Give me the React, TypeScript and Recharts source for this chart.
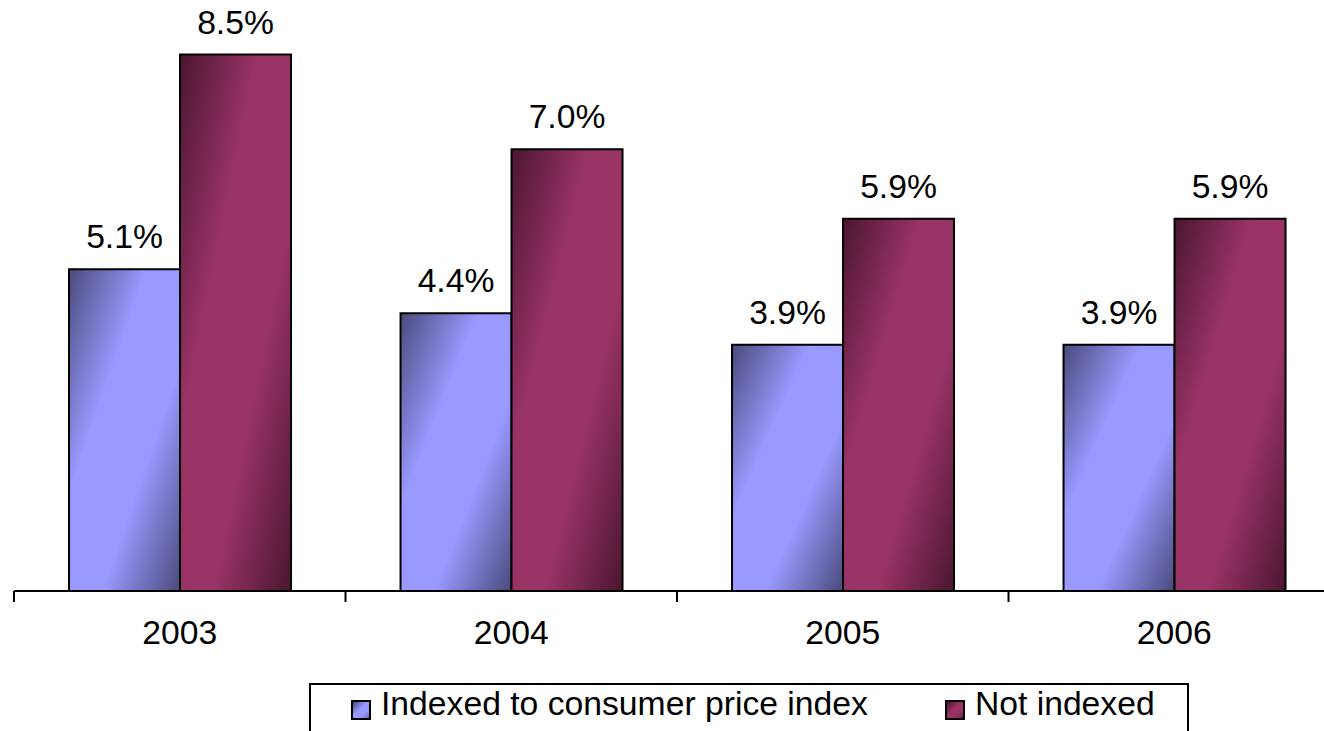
import React from 'react';
import { BarChart, Bar, XAxis, YAxis, LabelList, Legend } from 'recharts';

const years = ['2003', '2004', '2005', '2006'];
const indexedValues = [5.1, 4.4, 3.9, 3.9];
const notIndexedValues = [8.5, 7.0, 5.9, 5.9];
const seriesNames = ['Indexed to consumer price index', 'Not indexed'];

const data = years.map((year, i) => ({
  year,
  indexed: indexedValues[i],
  notIndexed: notIndexedValues[i],
}));

const CHART_W = 1360;
const CHART_H = 731;
const MARGIN = { top: 23, right: 20, left: 14, bottom: 10 };
const BAND = (CHART_W - MARGIN.left - MARGIN.right) / years.length;
const FONT = '"Liberation Sans", Arial, sans-serif';
const FS = 33.7;

const BLUE = { light: '#9999ff', dark: '#4a4a7c' };
const PLUM = { light: '#993366', dark: '#4a1630' };

// year label centred in its band, tick marks on the band boundaries
function YearTick({ x, y, payload, index }: any) {
  const last = index === years.length - 1;
  return (
    <g>
      <line x1={x - BAND / 2} y1={y} x2={x - BAND / 2} y2={y + 11} stroke="#000" strokeWidth={2} />
      {last && <line x1={x + BAND / 2} y1={y} x2={x + BAND / 2} y2={y + 11} stroke="#000" strokeWidth={2} />}
      <text x={x} y={y + 53} textAnchor="middle" fontSize={FS} fontFamily={FONT} fill="#000">
        {payload.value}
      </text>
    </g>
  );
}

function PctLabel({ x, y, width, value }: any) {
  return (
    <text x={x + width / 2} y={y - 21} textAnchor="middle" fontSize={FS} fontFamily={FONT} fill="#000">
      {`${Number(value).toFixed(1)}%`}
    </text>
  );
}

function swatch(c: { light: string; dark: string }) {
  return {
    width: 16,
    height: 16,
    border: '2px solid #000',
    background: `linear-gradient(135deg, ${c.dark} 0%, ${c.light} 45%, ${c.light} 70%, ${c.dark} 120%)`,
    marginTop: 15,
    marginRight: 10,
    flexShrink: 0,
  } as React.CSSProperties;
}

function LegendBox() {
  return (
    <div style={{
      width: 880, height: 70, border: '2px solid #000', boxSizing: 'border-box', background: '#fff',
      display: 'flex', alignItems: 'flex-start', paddingLeft: 40, paddingTop: 0,
      fontFamily: FONT, fontSize: FS, lineHeight: '36px', color: '#000', whiteSpace: 'nowrap',
    }}>
      <div style={swatch(BLUE)} />
      <span style={{ marginRight: 77 }}>{seriesNames[0]}</span>
      <div style={swatch(PLUM)} />
      <span>{seriesNames[1]}</span>
    </div>
  );
}

export default function App() {
  return (
    <div style={{ position: 'absolute', left: 0, top: 0, width: 1324, height: 731, overflow: 'hidden', background: '#fff' }}>
      <BarChart width={CHART_W} height={CHART_H} data={data} margin={MARGIN} barCategoryGap="16.6%" barGap={0}>
        <defs>
          <linearGradient id="blueShade" x1="0" y1="0" x2="1" y2="1">
            <stop offset="0" stopColor={BLUE.dark} />
            <stop offset="0.35" stopColor={BLUE.light} />
            <stop offset="0.65" stopColor={BLUE.light} />
            <stop offset="1" stopColor={BLUE.dark} />
          </linearGradient>
          <linearGradient id="plumShade" x1="0" y1="0" x2="1" y2="1">
            <stop offset="0" stopColor={PLUM.dark} />
            <stop offset="0.35" stopColor={PLUM.light} />
            <stop offset="0.65" stopColor={PLUM.light} />
            <stop offset="1" stopColor={PLUM.dark} />
          </linearGradient>
        </defs>
        <XAxis
          dataKey="year"
          axisLine={{ stroke: '#000', strokeWidth: 2 }}
          tickLine={false}
          tickSize={0}
          tickMargin={0}
          height={60}
          interval={0}
          tick={<YearTick />}
        />
        <YAxis hide domain={[0, 9]} />
        <Legend
          verticalAlign="bottom"
          content={() => <LegendBox />}
          wrapperStyle={{ position: 'absolute', left: 309, top: 683, width: 880, height: 70, bottom: 'auto' }}
        />
        <Bar dataKey="indexed" name={seriesNames[0]} fill="url(#blueShade)" stroke="#000" strokeWidth={2} isAnimationActive={false}>
          <LabelList dataKey="indexed" content={<PctLabel />} />
        </Bar>
        <Bar dataKey="notIndexed" name={seriesNames[1]} fill="url(#plumShade)" stroke="#000" strokeWidth={2} isAnimationActive={false}>
          <LabelList dataKey="notIndexed" content={<PctLabel />} />
        </Bar>
      </BarChart>
    </div>
  );
}
